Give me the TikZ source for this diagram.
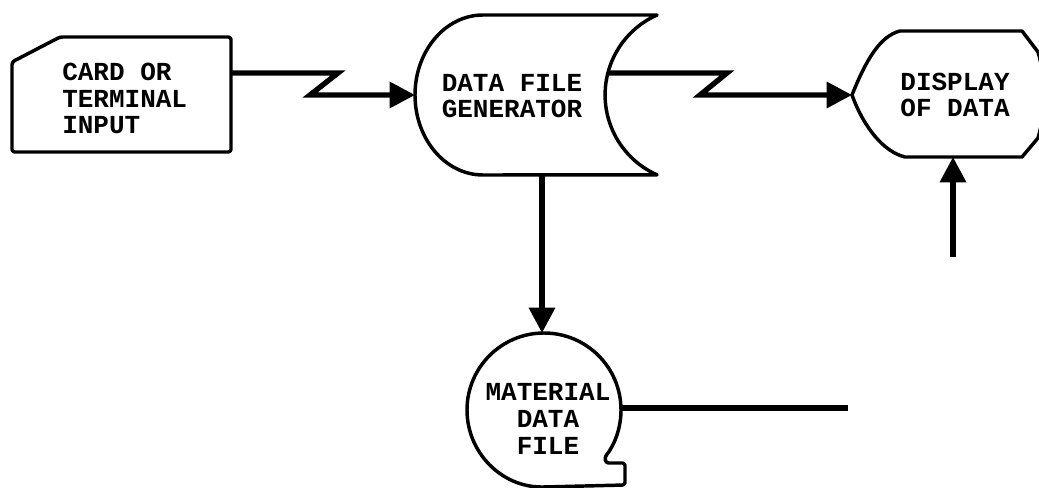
\documentclass[tikz,border=0pt]{standalone}
\usepackage{fontspec}
\setmonofont{Liberation Mono}
\usetikzlibrary{arrows.meta}
\begin{document}
\begin{tikzpicture}[x=0.75pt,y=-0.75pt,
  shapeline/.style={line width=2.6pt, line join=round},
  conn/.style={line width=4pt, line join=miter},
  arr/.style={conn,-{Triangle[length=19pt,width=19pt]}},
  lbl/.style={font=\ttfamily\bfseries\fontsize{19.5}{20}\selectfont, inner sep=0pt, align=center}]
\useasboundingbox (0,0) rectangle (1039,488);

% Card or terminal input
\draw[shapeline, rounded corners=2pt] (12,62) -- (60,37) -- (231,37) -- (231,152) -- (12,152) -- cycle;
\node[lbl, align=left, anchor=north west] (card) at (62,63) {CARD OR\\TERMINAL\\INPUT};
\coordinate (cardR) at (231,73);

% Data file generator
\draw[shapeline] (483,175) arc[start angle=90, end angle=270, x radius=68, y radius=80]
  -- (657,15) arc[start angle=246, end angle=114, radius=87.5] -- cycle;
\node[lbl] (dfg) at (512,96) {DATA FILE\\GENERATOR};
\coordinate (dfgL) at (415,95);
\coordinate (dfgR) at (608,73);
\coordinate (dfgB) at (542,175);

% Display of data
\draw[shapeline] (852,95) .. controls (866,60) and (880,36) .. (900,31) -- (1022,31) -- (1038,52)
  .. controls (1046,78) and (1046,112) .. (1038,138) -- (1022,157) -- (905,157)
  .. controls (884,152) and (864,128) .. (852,95) -- cycle;
\node[lbl] (disp) at (955,95) {DISPLAY\\OF DATA};
\coordinate (dispL) at (852,95);
\coordinate (dispB) at (953,157);
\coordinate (vin) at (953,257);

% Material data file
\draw[shapeline, rounded corners=2pt] (544,487) arc[start angle=90, end angle=398, radius=77]
  -- (606,463) -- (625,463) -- (625,485) -- cycle;
\node[lbl] (mdf) at (548,419) {MATERIAL\\DATA\\FILE};
\coordinate (mdfT) at (542,333);
\coordinate (mdfR) at (621,408);
\coordinate (mout) at (848,408);

% Connectors
\draw[arr] (cardR) -- (338,73) -- (310,95) -- (dfgL);
\draw[arr] (dfgR) -- (727,73) -- (700,95) -- (dispL);
\draw[arr] (dfgB) -- (mdfT);
\draw[arr] (vin) -- (dispB);
\draw[conn] (mdfR) -- (mout);
\end{tikzpicture}
\end{document}
